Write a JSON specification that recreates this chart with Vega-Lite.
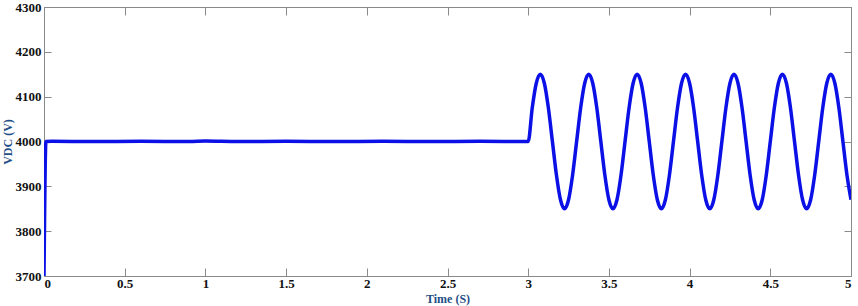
{
  "$schema": "https://vega.github.io/schema/vega-lite/v6.json",
  "autosize": "none",
  "width": 807,
  "height": 269,
  "padding": {"left": 44, "top": 7, "right": 7, "bottom": 30},
  "background": "white",
  "config": {
    "view": {"stroke": "#8a8a8a", "strokeWidth": 1},
    "axis": {
      "grid": false,
      "domainColor": "#8a8a8a",
      "tickColor": "#8a8a8a",
      "labelFont": "Liberation Serif",
      "labelFontWeight": "bold",
      "labelFontSize": 13,
      "labelColor": "#111111",
      "titleFont": "Liberation Serif",
      "titleFontWeight": "bold",
      "titleFontSize": 12,
      "titleColor": "#1f4f86"
    }
  },
  "data": {
    "values": [
      {"t": 0, "v": 3700}, {"t": 0.012, "v": 4000}, {"t": 0.05, "v": 4000.5}, {"t": 0.3, "v": 4000}, {"t": 0.6, "v": 4000.5}, {"t": 0.9, "v": 4000}, {"t": 1.0, "v": 4001}, {"t": 1.2, "v": 4000}, {"t": 1.5, "v": 4000.5}, {"t": 1.8, "v": 4000}, {"t": 2.1, "v": 4000.5}, {"t": 2.4, "v": 4000}, {"t": 2.7, "v": 4000.5}, {"t": 3.0, "v": 4000},
      {"t": 3.025, "v": 4075}, {"t": 3.05, "v": 4130}, {"t": 3.075, "v": 4150}, {"t": 3.1, "v": 4130}, {"t": 3.125, "v": 4075}, {"t": 3.15, "v": 4000}, {"t": 3.175, "v": 3925}, {"t": 3.2, "v": 3870}, {"t": 3.225, "v": 3850}, {"t": 3.25, "v": 3870}, {"t": 3.275, "v": 3925},
      {"t": 3.3, "v": 4000}, {"t": 3.325, "v": 4075}, {"t": 3.35, "v": 4130}, {"t": 3.375, "v": 4150}, {"t": 3.4, "v": 4130}, {"t": 3.425, "v": 4075}, {"t": 3.45, "v": 4000}, {"t": 3.475, "v": 3925}, {"t": 3.5, "v": 3870}, {"t": 3.525, "v": 3850}, {"t": 3.55, "v": 3870}, {"t": 3.575, "v": 3925},
      {"t": 3.6, "v": 4000}, {"t": 3.625, "v": 4075}, {"t": 3.65, "v": 4130}, {"t": 3.675, "v": 4150}, {"t": 3.7, "v": 4130}, {"t": 3.725, "v": 4075}, {"t": 3.75, "v": 4000}, {"t": 3.775, "v": 3925}, {"t": 3.8, "v": 3870}, {"t": 3.825, "v": 3850}, {"t": 3.85, "v": 3870}, {"t": 3.875, "v": 3925},
      {"t": 3.9, "v": 4000}, {"t": 3.925, "v": 4075}, {"t": 3.95, "v": 4130}, {"t": 3.975, "v": 4150}, {"t": 4.0, "v": 4130}, {"t": 4.025, "v": 4075}, {"t": 4.05, "v": 4000}, {"t": 4.075, "v": 3925}, {"t": 4.1, "v": 3870}, {"t": 4.125, "v": 3850}, {"t": 4.15, "v": 3870}, {"t": 4.175, "v": 3925},
      {"t": 4.2, "v": 4000}, {"t": 4.225, "v": 4075}, {"t": 4.25, "v": 4130}, {"t": 4.275, "v": 4150}, {"t": 4.3, "v": 4130}, {"t": 4.325, "v": 4075}, {"t": 4.35, "v": 4000}, {"t": 4.375, "v": 3925}, {"t": 4.4, "v": 3870}, {"t": 4.425, "v": 3850}, {"t": 4.45, "v": 3870}, {"t": 4.475, "v": 3925},
      {"t": 4.5, "v": 4000}, {"t": 4.525, "v": 4075}, {"t": 4.55, "v": 4130}, {"t": 4.575, "v": 4150}, {"t": 4.6, "v": 4130}, {"t": 4.625, "v": 4075}, {"t": 4.65, "v": 4000}, {"t": 4.675, "v": 3925}, {"t": 4.7, "v": 3870}, {"t": 4.725, "v": 3850}, {"t": 4.75, "v": 3870}, {"t": 4.775, "v": 3925},
      {"t": 4.8, "v": 4000}, {"t": 4.825, "v": 4075}, {"t": 4.85, "v": 4130}, {"t": 4.875, "v": 4150}, {"t": 4.9, "v": 4130}, {"t": 4.925, "v": 4075}, {"t": 4.95, "v": 4000}, {"t": 4.975, "v": 3925}, {"t": 5.0, "v": 3870}
    ]
  },
  "layer": [
    {
      "mark": {"type": "line", "color": "#0a10e6", "strokeWidth": 3.5, "interpolate": "monotone", "clip": true},
      "encoding": {
        "x": {"field": "t", "type": "quantitative", "scale": {"domain": [0, 5], "nice": false},
          "axis": {"orient": "bottom", "values": [0, 0.5, 1, 1.5, 2, 2.5, 3, 3.5, 4, 4.5, 5], "format": "~g", "tickSize": -8, "labelPadding": 9, "title": "Time (S)", "titlePadding": 3}},
        "y": {"field": "v", "type": "quantitative", "scale": {"domain": [3700, 4300], "nice": false, "zero": false},
          "axis": {"orient": "left", "values": [3700, 3800, 3900, 4000, 4100, 4200, 4300], "format": "d", "tickSize": -7, "labelPadding": 10, "title": "VDC (V)", "titlePadding": 1}}
      }
    },
    {
      "mark": {"type": "line", "opacity": 0},
      "encoding": {
        "x": {"field": "t", "type": "quantitative", "scale": {"domain": [0, 5], "nice": false},
          "axis": {"orient": "top", "values": [0, 0.5, 1, 1.5, 2, 2.5, 3, 3.5, 4, 4.5, 5], "tickSize": -8, "labels": false, "title": null}},
        "y": {"field": "v", "type": "quantitative", "scale": {"domain": [3700, 4300], "nice": false, "zero": false},
          "axis": {"orient": "right", "values": [3700, 3800, 3900, 4000, 4100, 4200, 4300], "tickSize": -7, "labels": false, "title": null}}
      }
    }
  ],
  "resolve": {"axis": {"x": "independent", "y": "independent"}}
}
